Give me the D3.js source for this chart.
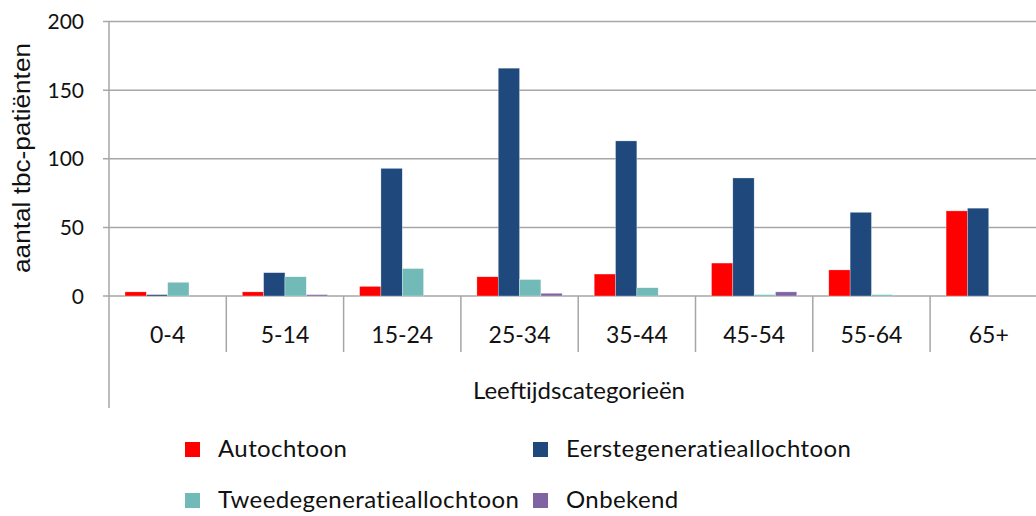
<!doctype html>
<html lang="nl">
<head>
<meta charset="utf-8">
<title>tbc-patiënten per leeftijdscategorie</title>
<script src="https://cdn.jsdelivr.net/npm/d3@7"></script>
<style>
  html, body { margin: 0; padding: 0; background: #fff; }
  svg text { font-family: Lato, "Noto Sans", sans-serif; fill: #111; }
  svg text.ytitle { font-family: "Liberation Sans", Arial, sans-serif; }
</style>
</head>
<body>
<div id="container"></div>
<script>
// data
const categories = ['0-4', '5-14', '15-24', '25-34', '35-44', '45-54', '55-64', '65+'];
const seriesNames = ['Autochtoon', 'Eerstegeneratieallochtoon', 'Tweedegeneratieallochtoon', 'Onbekend'];
const autochtoon = [3, 3, 7, 14, 16, 24, 19, 62];
const eersteGen = [1, 17, 93, 166, 113, 86, 61, 64];
const tweedeGen = [10, 14, 20, 12, 6, 1, 1, 0];
const onbekend = [0, 1, 0, 2, 0, 3, 0, 0];
const yTicks = [0, 50, 100, 150, 200];

const seriesValues = [autochtoon, eersteGen, tweedeGen, onbekend];
const colors = d3.scaleOrdinal().domain(seriesNames).range(['#ff0000', '#1f497d', '#71bab7', '#8064a2']);

const W = 1036, H = 516;
const plotLeft = 109, plotTop = 21.5, plotBottom = 296;
const catW = 117.3;

const svg = d3.select('#container').append('svg')
  .attr('width', W).attr('height', H);

const x0 = d3.scaleBand().domain(categories).range([plotLeft, plotLeft + catW * categories.length]).padding(0);
const x1 = d3.scaleBand().domain(seriesNames).range([0, x0.bandwidth()]).paddingInner(0).paddingOuter(0.75);
const y = d3.scaleLinear().domain([0, 200]).range([plotBottom, plotTop]);

const gridCol = '#a6a6a6';

// gridlines + y ticks
svg.append('g').selectAll('line')
  .data(yTicks)
  .enter().append('line')
  .attr('x1', plotLeft - 6).attr('x2', W)
  .attr('y1', d => y(d)).attr('y2', d => y(d))
  .attr('stroke', gridCol).attr('stroke-width', 1.5);

svg.append('g').selectAll('text')
  .data(yTicks)
  .enter().append('text')
  .attr('x', 84).attr('y', d => y(d) + 7.5)
  .attr('text-anchor', 'end')
  .style('font-size', '21px')
  .text(d => d);

// category separators below axis
const bounds = categories.map(c => x0(c)).concat([x0.range()[1]]);
svg.append('g').selectAll('line')
  .data(bounds.slice(1))
  .enter().append('line')
  .attr('x1', d => d).attr('x2', d => d)
  .attr('y1', plotBottom).attr('y2', 352)
  .attr('stroke', gridCol).attr('stroke-width', 1.5);

// bars
const group = svg.append('g').selectAll('g')
  .data(categories)
  .enter().append('g')
  .attr('transform', d => 'translate(' + x0(d) + ',0)');

group.selectAll('rect')
  .data((d, i) => seriesNames.map((s, k) => ({key: s, value: seriesValues[k][i]})))
  .enter().append('rect')
  .attr('x', d => x1(d.key))
  .attr('y', d => y(d.value))
  .attr('width', x1.bandwidth())
  .attr('height', d => plotBottom - y(d.value))
  .attr('fill', d => colors(d.key))
  .attr('stroke', '#fff').attr('stroke-width', 0.5).attr('stroke-opacity', 0.6);

// left axis line
svg.append('line')
  .attr('x1', plotLeft).attr('x2', plotLeft)
  .attr('y1', plotTop).attr('y2', 408)
  .attr('stroke', gridCol).attr('stroke-width', 1.5);

// x labels
svg.append('g').selectAll('text')
  .data(categories)
  .enter().append('text')
  .attr('x', d => x0(d) + x0.bandwidth() / 2)
  .attr('y', 343)
  .attr('text-anchor', 'middle')
  .style('font-size', '23px')
  .text(d => d);

svg.append('text')
  .attr('x', 579).attr('y', 399)
  .attr('text-anchor', 'middle')
  .style('font-size', '24px')
  .text('Leeftijdscategorieën');

svg.append('text')
  .attr('class', 'ytitle')
  .attr('transform', 'translate(30,158) rotate(-90)')
  .attr('text-anchor', 'middle')
  .attr('textLength', 230)
  .attr('lengthAdjust', 'spacingAndGlyphs')
  .style('font-size', '23px')
  .text('aantal tbc-patiënten');

// legend
const legPos = [[185, 457], [533, 457], [185, 508], [533, 508]];
const legend = svg.append('g').selectAll('g')
  .data(seriesNames)
  .enter().append('g')
  .attr('transform', (d, i) => 'translate(' + legPos[i][0] + ',' + legPos[i][1] + ')');

legend.append('rect')
  .attr('x', 0).attr('y', -15)
  .attr('width', 15).attr('height', 15)
  .attr('fill', colors);

legend.append('text')
  .attr('x', 33).attr('y', 0)
  .style('font-size', '24px')
  .style('letter-spacing', '0.4px')
  .text(d => d);
</script>
</body>
</html>
